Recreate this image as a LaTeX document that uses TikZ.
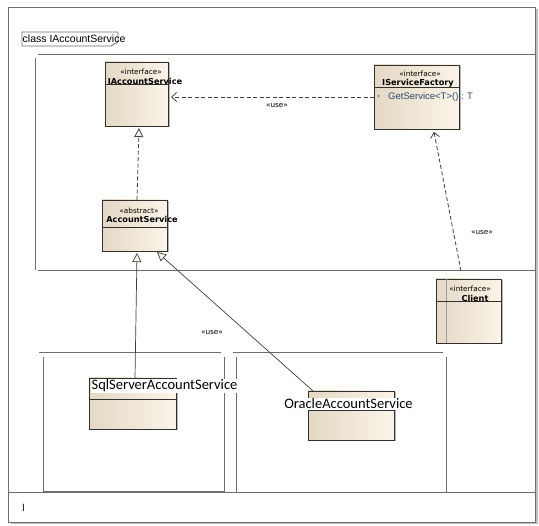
\documentclass[tikz,border=0pt]{standalone}
\usepackage{fontspec}
\setmainfont{Liberation Sans}
\newfontfamily\calfont{Carlito}
\newfontfamily\djfont{DejaVu Sans}
\usetikzlibrary{arrows.meta,shadows}
\definecolor{creamL}{HTML}{E4D8C5}
\definecolor{creamR}{HTML}{FBF4E8}
\definecolor{edgeC}{HTML}{303030}
\definecolor{frameC}{HTML}{6E6E6E}
\definecolor{opC}{HTML}{2B4A6A}
\definecolor{lineC}{HTML}{404040}
\begin{document}
\begin{tikzpicture}[x=1pt,y=-1pt,
  cls/.style={draw=edgeC, line width=0.9pt, left color=creamL, right color=creamR,
    drop shadow={shadow xshift=1.5pt, shadow yshift=-1.5pt, fill=black!35, opacity=0.8},
    anchor=north west, inner sep=0pt, outer sep=0pt},
  sepline/.style={draw=edgeC, line width=0.8pt},
  stereo/.style={font=\djfont\fontsize{7.3}{8}\selectfont, inner sep=0pt},
  cname/.style={font=\djfont\bfseries\fontsize{8.2}{10}\selectfont, inner sep=0pt},
  bigname/.style={font=\calfont\fontsize{14.5}{15}\selectfont, fill=white, inner sep=1pt},
  usel/.style={font=\djfont\fontsize{7.3}{8}\selectfont, inner sep=0pt},
  frame/.style={draw=frameC, line width=1pt},
  dep/.style={draw=lineC, line width=0.8pt, dash pattern=on 4pt off 2.5pt, -{Straight Barb[length=5pt,width=9pt]}},
  real/.style={draw=lineC, line width=0.8pt, dash pattern=on 4pt off 2.5pt, -{Triangle[open, length=9pt, width=9pt, fill=creamR]}},
  gen/.style={draw=lineC, line width=0.7pt, -{Triangle[open, length=9pt, width=9pt, fill=creamR]}}
]
\useasboundingbox (0,0) rectangle (539,526);
% outer frame
\node[draw=frameC, line width=1pt, fill=white, anchor=north west, minimum width=527pt, minimum height=515pt, inner sep=0pt,
  drop shadow={shadow xshift=2pt, shadow yshift=-2pt, fill=black!50}] (outer) at (8,7) {};
\draw[frame] (8,493) -- (535,493);
\node[font=\fontsize{10}{11}\selectfont, inner sep=0pt] (ltext) at (23.5,508) {l};
% title tab
\draw[draw=frameC, line width=0.8pt, fill=white] (22,32) -- (118,32) -- (118,42) -- (111,46) -- (22,46) -- cycle;
\node[font=\fontsize{10.5}{11}\selectfont, inner sep=0pt, anchor=west] (title) at (22.5,39) {class IAccountService};
% upper frame
\draw[frame] (38,55) -- (535,55);
\draw[frame] (35,58) -- (35,270);
\draw[frame] (38,271) -- (535,271);
% lower frames
\draw[frame] (39,353) -- (221,353);
\draw[frame] (43,357) -- (43,492);
\draw[frame] (224,357) -- (224,492);
\draw[frame] (43,492) -- (224,492);
\draw[frame] (233,353) -- (443,353);
\draw[frame] (236,357) -- (236,493);
\draw[frame] (446,357) -- (446,493);

% classes
\node[cls, minimum width=63pt, minimum height=64pt] (ias) at (105,62) {};
\draw[sepline] ([yshift=-22pt]ias.north west) -- ([yshift=-22pt]ias.north east);
\node[stereo] (iasS) at (141,72) {«interface»};
\node[cname] (iasN) at (145,81) {IAccountService};

\node[cls, minimum width=85pt, minimum height=64pt] (isf) at (374,65) {};
\draw[sepline] ([yshift=-22pt]isf.north west) -- ([yshift=-22pt]isf.north east);
\node[stereo] (isfS) at (420,74) {«interface»};
\node[cname] (isfN) at (418,83) {IServiceFactory};
\node[font=\fontsize{6}{7}\selectfont, inner sep=0pt, text=opC] (isfV) at (379,97) {+};
\node[font=\fontsize{9.5}{10}\selectfont, inner sep=0pt, anchor=west, text=opC] (isfOp) at (388,97) {GetService<T>() : T};

\node[cls, minimum width=65pt, minimum height=51pt] (as) at (102,200) {};
\draw[sepline] ([yshift=-27pt]as.north west) -- ([yshift=-27pt]as.north east);
\node[stereo] (asS) at (139,211) {«abstract»};
\node[cname] (asN) at (142,219) {AccountService};

\node[cls, minimum width=65pt, minimum height=64pt] (cl) at (436,279) {};
\draw[draw=black!40, line width=0.8pt] ([xshift=10pt]cl.north west) -- ([xshift=10pt]cl.south west);
\draw[sepline] ([yshift=-22pt]cl.north west) -- ([yshift=-22pt]cl.north east);
\node[stereo] (clS) at (470,289) {«interface»};
\node[cname] (clN) at (475,298) {Client};

\node[cls, minimum width=87pt, minimum height=51pt] (sql) at (89,378) {};
\draw[sepline] ([yshift=-21pt]sql.north west) -- ([yshift=-21pt]sql.north east);
\node[cls, minimum width=86pt, minimum height=49pt] (ora) at (308,391) {};
\draw[sepline] ([yshift=-19pt]ora.north west) -- ([yshift=-19pt]ora.north east);

% connectors
\draw[dep] (isf.west) -- ([xshift=3pt]ias.east |- isf.west);
\node[usel] (use1) at (277,106) {«use»};
\draw[real] ([xshift=2.5pt]as.north) -- ([xshift=2.5pt,yshift=-2pt]ias.south);
\draw[dep] ([xshift=-7.5pt,yshift=8pt]cl.north) -- ([xshift=17.5pt,yshift=-3pt]isf.south);
\node[usel] (use2) at (482,233) {«use»};
\draw[gen] ([xshift=2.5pt]sql.north) -- ([xshift=2.5pt,yshift=-2pt]as.south);
\draw[gen] ([xshift=5pt]ora.north west) -- ([xshift=22.5pt,yshift=-1pt]as.south);
\node[usel] (use3) at (212,333) {«use»};

\node[bigname] (sqlN) at (164.5,386) {SqlServerAccountService};
\node[bigname] (oraN) at (348.5,404) {OracleAccountService};
\end{tikzpicture}
\end{document}
